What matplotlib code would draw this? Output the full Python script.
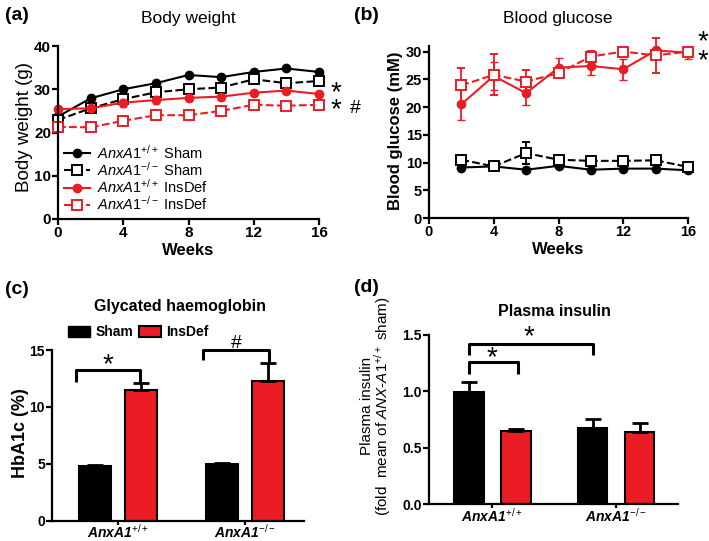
import matplotlib
matplotlib.use('Agg')
from matplotlib import pyplot as plt
from matplotlib.patches import Patch
import numpy as np

# ---- data ----
weeks_bw = [0, 2, 4, 6, 8, 10, 12, 14, 16]
bw_wt_sham = [23.7, 27.9, 30.0, 31.4, 33.3, 32.8, 34.0, 34.8, 34.0]
bw_ko_sham = [22.9, 25.6, 27.7, 29.3, 30.0, 30.4, 32.3, 31.4, 31.9]
bw_wt_insdef = [25.4, 25.6, 26.9, 27.5, 28.0, 28.3, 29.2, 29.7, 28.9]
bw_wt_insdef_err = [0.5, 0.8, 0.9, 0.9, 0.8, 0.7, 0.6, 0.6, 0.6]
bw_ko_insdef = [21.3, 21.2, 22.7, 24.0, 24.0, 25.0, 26.4, 26.2, 26.4]

weeks_bg = [2, 4, 6, 8, 10, 12, 14, 16]
bg_wt_sham = [9.1, 9.3, 8.7, 9.4, 8.7, 8.9, 8.9, 8.6]
bg_ko_sham = [10.5, 9.3, 11.7, 10.5, 10.3, 10.3, 10.4, 9.2]
bg_ko_sham_err = [0.4, 0.3, 2.0, 0.3, 0.3, 0.3, 0.8, 0.3]
bg_wt_insdef = [20.5, 25.6, 22.5, 27.1, 27.4, 26.8, 30.2, 29.8]
bg_wt_insdef_err = [2.9, 2.5, 2.1, 1.7, 1.6, 1.9, 0.5, 1.1]
bg_ko_insdef = [23.9, 25.8, 24.6, 26.1, 29.1, 30.0, 29.3, 30.0]
bg_ko_insdef_err = [3.2, 3.7, 2.0, 0.8, 1.0, 0.5, 3.2, 0.6]

genotypes = [r'$\mathbf{AnxA1}^{+/+}$', r'$\mathbf{AnxA1}^{-/-}$']
hba1c_sham = [4.8, 4.95]
hba1c_sham_err = [0.1, 0.1]
hba1c_insdef = [11.5, 12.3]
hba1c_insdef_err = [0.6, 1.55]

insulin_sham = [0.99, 0.675]
insulin_sham_err = [0.095, 0.077]
insulin_insdef = [0.645, 0.635]
insulin_insdef_err = [0.02, 0.08]

RED = '#ec1c24'
W, H = 709, 541

plt.rcParams['font.family'] = ['Liberation Sans', 'DejaVu Sans']
plt.rcParams['mathtext.fontset'] = 'custom'
plt.rcParams['mathtext.rm'] = 'Liberation Sans'
plt.rcParams['mathtext.it'] = 'Liberation Sans:italic'
plt.rcParams['mathtext.bf'] = 'Liberation Sans:italic:bold'
plt.rcParams['axes.linewidth'] = 1.6


def px_axes(fig, left, right, top, bottom):
    return fig.add_axes([left / W, 1 - bottom / H, (right - left) / W, (bottom - top) / H])


def ftext(fig, x, y, s, **kw):
    fig.text(x / W, 1 - y / H, s, ha=kw.pop('ha', 'center'), va=kw.pop('va', 'center'), **kw)


def style(ax, size=11):
    for side in ('top', 'right'):
        ax.spines[side].set_visible(False)
    ax.tick_params(direction='out', width=1.6, length=4, labelsize=size, pad=1)
    for lab in ax.get_yticklabels():
        lab.set_fontweight('bold')
    for lab in ax.get_xticklabels():
        lab.set_fontweight('bold')


def bracket(ax, x1, x2, y1, yt, y2):
    ax.plot([x1, x1, x2, x2], [y1, yt, yt, y2], color='k', lw=2.2, clip_on=False,
            solid_capstyle='butt')


fig = plt.figure(figsize=(W / 100, H / 100), dpi=100)

# ---- (a) body weight ----
ax = px_axes(fig, 58, 319, 46, 219)
h1, = ax.plot(weeks_bw, bw_wt_sham, 'o-', color='k', lw=1.5, ms=6, clip_on=False)
h2, = ax.plot(weeks_bw, bw_ko_sham, 's--', color='k', mfc='white', mew=1.4, lw=1.5, ms=6.5,
              clip_on=False)
h3 = ax.errorbar(weeks_bw, bw_wt_insdef, yerr=bw_wt_insdef_err, fmt='o-', color=RED, lw=1.5,
                 ms=6, capsize=2.5, elinewidth=1.2, clip_on=False)
h4, = ax.plot(weeks_bw, bw_ko_insdef, 's--', color=RED, mfc='white', mew=1.4, lw=1.5, ms=6.5,
              clip_on=False)
ax.set_xlim(0, 16)
ax.set_ylim(0, 40)
ax.set_xticks([0, 4, 8, 12, 16])
ax.set_yticks([0, 10, 20, 30, 40])
ax.set_xlabel('Weeks', fontsize=12, fontweight='bold', labelpad=2)
ax.set_ylabel('Body weight (g)', fontsize=13.5)
ax.yaxis.set_label_coords(-0.096, 0.53)
ax.legend([h1, h2, h3[0], h4],
          [r'$\mathit{AnxA1}^{+/+}$ Sham', r'$\mathit{AnxA1}^{-/-}$ Sham',
           r'$\mathit{AnxA1}^{+/+}$ InsDef', r'$\mathit{AnxA1}^{-/-}$ InsDef'],
          loc='lower left', bbox_to_anchor=(0.0, 0.0), frameon=False,
          fontsize=10.5, handlelength=1.8, labelspacing=-0.04, handletextpad=0.5,
          borderaxespad=0.0)
style(ax)
ax.text(16.7, 29.0, '*', fontsize=20, ha='left', va='center')
ax.text(16.7, 25.1, '*', fontsize=20, ha='left', va='center')
ax.text(17.9, 25.6, '#', fontsize=14, ha='left', va='center')

# ---- (b) blood glucose ----
ax = px_axes(fig, 429, 688, 46, 218)
ax.plot(weeks_bg, bg_wt_sham, 'o-', color='k', lw=1.5, ms=6, clip_on=False)
ax.errorbar(weeks_bg, bg_ko_sham, yerr=bg_ko_sham_err, fmt='s--', color='k', mfc='white',
            mew=1.4, lw=1.5, ms=6.5, capsize=3, elinewidth=1.3, clip_on=False)
ax.errorbar(weeks_bg, bg_wt_insdef, yerr=bg_wt_insdef_err, fmt='o-', color=RED, lw=1.5,
            ms=6, capsize=3, elinewidth=1.3, clip_on=False)
ax.errorbar(weeks_bg, bg_ko_insdef, yerr=bg_ko_insdef_err, fmt='s--', color=RED,
            mfc='white', mew=1.4, lw=1.5, ms=6.5, capsize=3, elinewidth=1.3, clip_on=False)
ax.set_xlim(0, 16)
ax.set_ylim(0, 31)
ax.set_xticks([0, 4, 8, 12, 16])
ax.set_yticks([0, 5, 10, 15, 20, 25, 30])
ax.set_xlabel('Weeks', fontsize=12, fontweight='bold', labelpad=2)
ax.set_ylabel('Blood glucose (mM)', fontsize=12, fontweight='bold')
ax.yaxis.set_label_coords(-0.102, 0.51)
style(ax, 10.5)
ax.text(16.6, 31.7, '*', fontsize=20, ha='left', va='center')
ax.text(16.6, 28.2, '*', fontsize=20, ha='left', va='center')

# ---- (c) HbA1c ----
x = np.arange(len(genotypes))
bw = 0.25
off = 0.18
ax = px_axes(fig, 52, 304, 350, 520.5)
ax.bar(x - off, hba1c_sham, bw, color='k', edgecolor='k', lw=1.5)
ax.bar(x + off, hba1c_insdef, bw, color=RED, edgecolor='k', lw=1.5)
ax.errorbar(x - off, hba1c_sham, yerr=[np.zeros(2), hba1c_sham_err], fmt='none',
            ecolor='k', elinewidth=2, capsize=6, capthick=2)
ax.errorbar(x + off, hba1c_insdef, yerr=[np.zeros(2), hba1c_insdef_err], fmt='none',
            ecolor='k', elinewidth=2, capsize=6, capthick=2)
ax.set_xlim(-0.52, 1.465)
ax.set_ylim(0, 15)
ax.set_yticks([0, 5, 10, 15])
ax.set_xticks(x)
ax.set_xticklabels(genotypes, fontsize=10)
ax.set_ylabel('HbA1c (%)', fontsize=13, fontweight='bold')
ax.yaxis.set_label_coords(-0.092, 0.51)
style(ax, 10)
ax.tick_params(axis='x', labelsize=10, pad=-1, length=3)
bracket(ax, -0.33, 0.17, 12.2, 13.25, 12.1)
ax.text(-0.08, 13.7, '*', fontsize=20, ha='center', va='center')
bracket(ax, 0.67, 1.19, 14.1, 15.0, 13.8)
ax.text(0.93, 15.6, '#', fontsize=14, ha='center', va='center')
ax.legend([Patch(fc='k', ec='k'), Patch(fc=RED, ec='k', lw=1.5)], ['Sham', 'InsDef'],
          loc='lower left', bbox_to_anchor=(0.04, 1.03), ncol=2, frameon=False,
          prop={'size': 10, 'weight': 'bold'}, handlelength=1.6, handleheight=0.8,
          columnspacing=0.4, handletextpad=0.4, borderaxespad=0)

# ---- (d) plasma insulin ----
ax = px_axes(fig, 429, 678, 335, 504)
off = 0.19
bw = 0.24
ax.bar(x - off, insulin_sham, bw, color='k', edgecolor='k', lw=1.5)
ax.bar(x + off, insulin_insdef, bw, color=RED, edgecolor='k', lw=1.5)
ax.errorbar(x - off, insulin_sham, yerr=[np.zeros(2), insulin_sham_err], fmt='none',
            ecolor='k', elinewidth=2, capsize=6, capthick=2)
ax.errorbar(x + off, insulin_insdef, yerr=[np.zeros(2), insulin_insdef_err], fmt='none',
            ecolor='k', elinewidth=2, capsize=6, capthick=2)
ax.set_xlim(-0.51, 1.5)
ax.set_ylim(0, 1.5)
ax.set_yticks([0, 0.5, 1.0, 1.5])
ax.set_yticklabels(['0.0', '0.5', '1.0', '1.5'])
ax.set_xticks(x)
ax.set_xticklabels(genotypes, fontsize=10)
ax.set_ylabel('Plasma insulin\n' + r'(fold  mean of $\mathit{ANX}$-$\mathit{A1}^{+/+}$ sham)',
              fontsize=11, linespacing=0.9)
ax.yaxis.set_label_coords(-0.145, 0.58)
style(ax, 10)
ax.tick_params(axis='x', labelsize=10, pad=-1, length=3)
bracket(ax, -0.19, 0.81, 1.32, 1.42, 1.32)
ax.text(0.3, 1.48, '*', fontsize=20, ha='center', va='center')
bracket(ax, -0.19, 0.21, 1.15, 1.26, 1.15)
ax.text(0.0, 1.29, '*', fontsize=20, ha='center', va='center')

# ---- titles and panel letters ----
ftext(fig, 188, 19, 'Body weight', fontsize=12.5)
ftext(fig, 558, 19, 'Blood glucose', fontsize=12.5)
ftext(fig, 180, 306, 'Glycated haemoglobin', fontsize=11.5, fontweight='bold')
ftext(fig, 554, 311, 'Plasma insulin', fontsize=11.5, fontweight='bold')
ftext(fig, 17, 15, '(a)', fontsize=14, fontweight='bold')
ftext(fig, 366, 15, '(b)', fontsize=14, fontweight='bold')
ftext(fig, 17, 289, '(c)', fontsize=14, fontweight='bold')
ftext(fig, 366, 288, '(d)', fontsize=14, fontweight='bold')

fig.savefig('out.png', dpi=100)
